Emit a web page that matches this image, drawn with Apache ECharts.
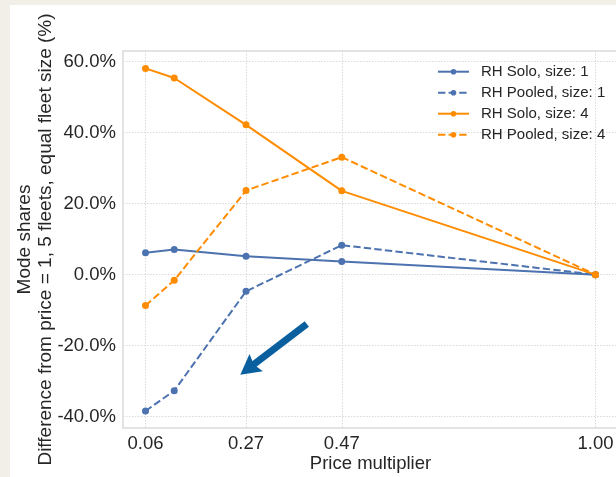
<!DOCTYPE html>
<html><head><meta charset="utf-8">
<script src="https://cdn.jsdelivr.net/npm/echarts@6/dist/echarts.min.js"></script>
<style>
html,body{margin:0;padding:0;width:616px;height:477px;overflow:hidden;background:#f1efe8;}
#card{position:absolute;left:10px;top:5px;width:606px;height:472px;background:#ffffff;}
#chart{position:absolute;left:0;top:0;width:616px;height:477px;}
</style></head><body>
<div id="card"></div><div id="chart"></div>
<script>
const priceMultipliers = [0.06, 0.12, 0.27, 0.47, 1.00];
const xTickValues = [0.06, 0.27, 0.47, 1.00];
const yTickValues = [-40, -20, 0, 20, 40, 60];
const seriesNames = ['RH Solo, size: 1', 'RH Pooled, size: 1', 'RH Solo, size: 4', 'RH Pooled, size: 4'];
const rhSoloSize1 = [6.2, 7.1, 5.2, 3.7, 0];
const rhPooledSize1 = [-38.4, -32.7, -4.7, 8.3, 0];
const rhSoloSize4 = [58.1, 55.4, 42.2, 23.6, 0];
const rhPooledSize4 = [-8.7, -1.6, 23.7, 33.1, 0];
const arrowFrom = [0.397, -13.9];
const arrowTo = [0.258, -28.2];

const FONT = '"Liberation Sans", Arial, sans-serif';
const TXT = '#262626';
const BLUE = '#4c72b0';
const ORANGE = '#ff8c00';
const ARROW = '#0a5f9e';
const DASH = [7.4, 3.2];

function pairs(vals) { return priceMultipliers.map((x, i) => [x, vals[i]]); }
function mk(name, vals, color, dashed) {
  return {
    name: name, type: 'line', data: pairs(vals),
    symbol: 'circle', symbolSize: 7, showSymbol: true,
    itemStyle: { color: color },
    lineStyle: { color: color, width: 2, type: dashed ? DASH : 'solid' },
    emphasis: { disabled: true }, animation: false
  };
}

const chart = echarts.init(document.getElementById('chart'), null, { renderer: 'canvas' });
chart.setOption({
  animation: false,
  textStyle: { fontFamily: FONT, color: TXT },
  grid: { left: 123, top: 51, width: 495, height: 377, containLabel: false, outerBoundsMode: 'none',
          show: true, borderColor: '#dadada', borderWidth: 1.5, backgroundColor: 'transparent' },
  legend: {
    orient: 'vertical', left: 437, top: 64.2, padding: 0, itemWidth: 31, itemHeight: 7, itemGap: 6,
    textStyle: { fontFamily: FONT, fontSize: 15, lineHeight: 15, color: TXT, padding: [0, 0, 0, 7] },
    data: seriesNames
  },
  xAxis: {
    type: 'value', min: 0.013, max: 1.047,
    name: 'Price multiplier', nameLocation: 'middle', nameGap: 26, nameMoveOverlap: false,
    nameTextStyle: { fontFamily: FONT, fontSize: 18.5, color: TXT },
    axisLine: { show: false },
    axisTick: { show: false, customValues: xTickValues },
    axisLabel: { customValues: xTickValues, formatter: v => v.toFixed(2), fontFamily: FONT, fontSize: 18.5, color: TXT, margin: 6 },
    splitLine: { show: true, lineStyle: { color: '#d9d9d9', width: 1, type: [1.5, 1.5] } }
  },
  yAxis: {
    type: 'value', min: -43.2, max: 63.0,
    name: 'Mode shares\nDifference from price = 1, 5 fleets, equal fleet size (%)',
    nameLocation: 'middle', nameGap: 67, nameRotate: 90, nameMoveOverlap: false,
    nameTextStyle: { fontFamily: FONT, fontSize: 19, color: TXT, lineHeight: 20.5 },
    axisLine: { show: false },
    axisTick: { show: false, customValues: yTickValues },
    axisLabel: { customValues: yTickValues, formatter: v => v.toFixed(1) + '%', fontFamily: FONT, fontSize: 18.5, color: TXT, margin: 7 },
    splitLine: { show: true, lineStyle: { color: '#d9d9d9', width: 1, type: [1.5, 1.5] } }
  },
  series: [
    mk(seriesNames[0], rhSoloSize1, BLUE, false),
    mk(seriesNames[1], rhPooledSize1, BLUE, true),
    mk(seriesNames[2], rhSoloSize4, ORANGE, false),
    mk(seriesNames[3], rhPooledSize4, ORANGE, true)
  ]
});

// Annotation arrow, defined in data coordinates and converted by the chart's own scales
const p0 = chart.convertToPixel({ gridIndex: 0 }, arrowFrom);
const p1 = chart.convertToPixel({ gridIndex: 0 }, arrowTo);
const dx = p1[0] - p0[0], dy = p1[1] - p0[1];
const len = Math.hypot(dx, dy);
const ux = dx / len, uy = dy / len, nx = -uy, ny = ux;
const headLen = 20, headHalf = 11, shaftHalf = 3.5, notch = 3;
const bx = p1[0] - ux * headLen, by = p1[1] - uy * headLen;
const sEndX = bx + ux * (notch + 1), sEndY = by + uy * (notch + 1);
chart.setOption({
  graphic: [
    { type: 'polygon', silent: true, z: 100,
      shape: { points: [[p0[0] + nx * shaftHalf, p0[1] + ny * shaftHalf], [sEndX + nx * shaftHalf, sEndY + ny * shaftHalf],
                        [sEndX - nx * shaftHalf, sEndY - ny * shaftHalf], [p0[0] - nx * shaftHalf, p0[1] - ny * shaftHalf]] },
      style: { fill: ARROW } },
    { type: 'polygon', silent: true, z: 101,
      shape: { points: [[p1[0], p1[1]], [bx + nx * headHalf, by + ny * headHalf], [bx + ux * notch, by + uy * notch], [bx - nx * headHalf, by - ny * headHalf]] },
      style: { fill: ARROW } }
  ]
});
</script>
</body></html>
